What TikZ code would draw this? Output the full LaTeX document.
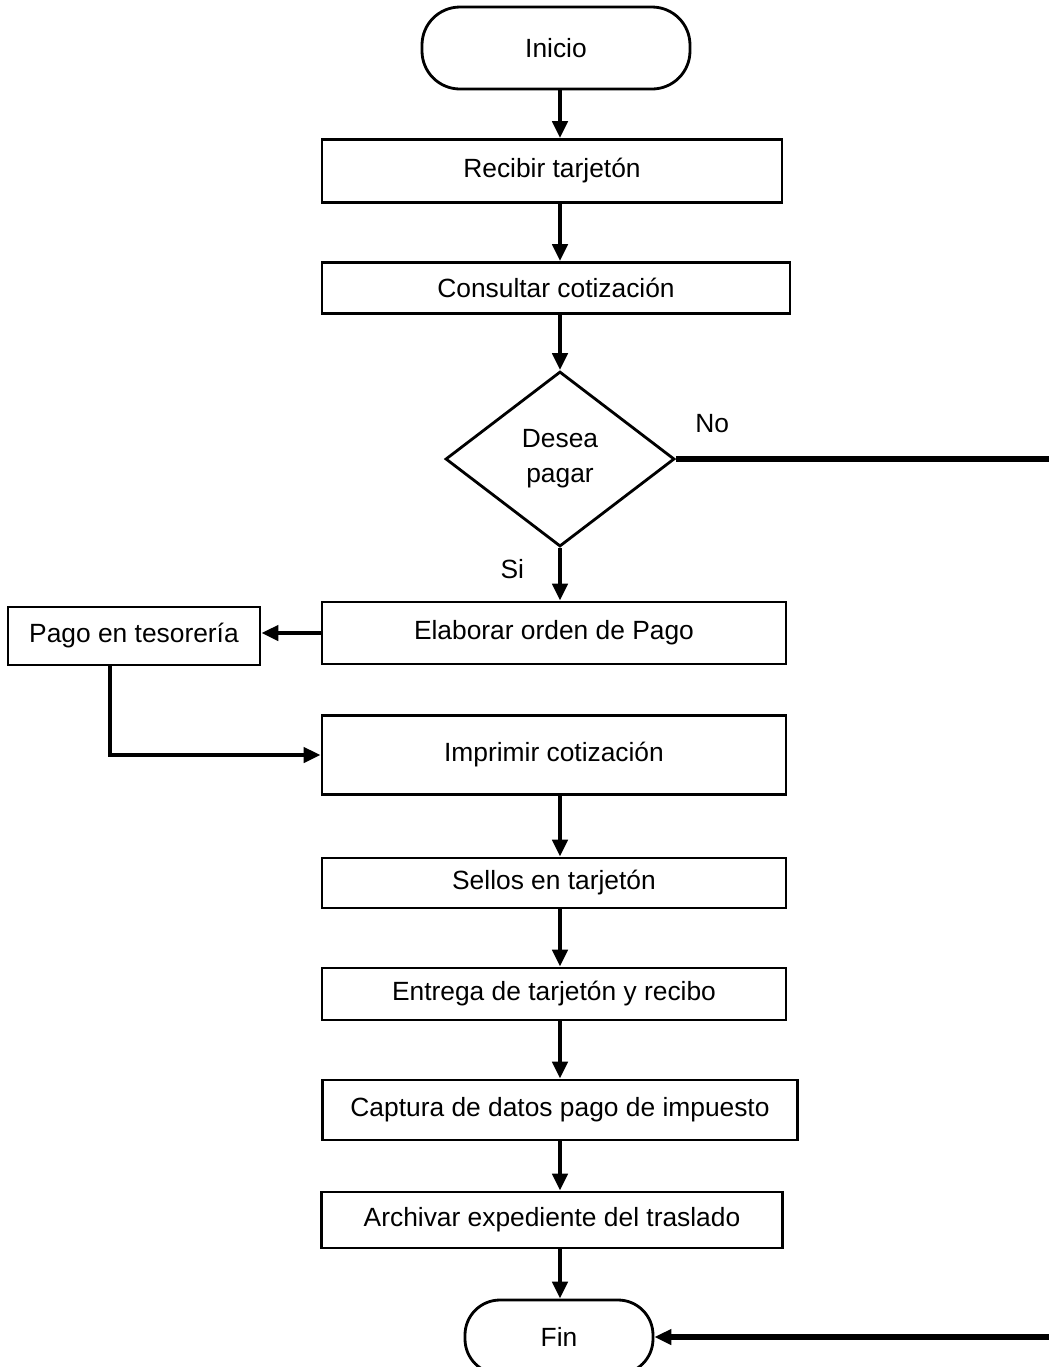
\documentclass[tikz,border=0pt]{standalone}
\usepackage{fontspec}
\setmainfont{Liberation Sans}
\usepackage{tikz}
\usetikzlibrary{arrows.meta, shapes.geometric, positioning, calc}

\begin{document}
\begin{tikzpicture}[
    font=\fontsize{7.5}{9.4}\selectfont,
    proc/.style={draw, rectangle, line width=0.8pt, inner sep=0pt, align=center},
    term/.style={draw, rectangle, rounded corners=0.38cm, line width=0.8pt, inner sep=0pt},
    dec/.style={draw, diamond, aspect=1.3, line width=0.8pt, inner sep=0pt, align=center},
    arr/.style={line width=1.3pt, -{Triangle[length=0.17cm, width=0.15cm]}},
    back/.style={line width=1.5pt, -{Triangle[length=0.17cm, width=0.15cm]}}
  ]
        % page frame
        \useasboundingbox (0,0) rectangle (10.49,-13.67);

        % Terminators
        \node[term, minimum width=2.68cm, minimum height=0.82cm] (ini) at (5.56,-0.48) {Inicio};
        \node[term, minimum width=1.88cm, minimum height=0.74cm, rounded corners=0.35cm] (fin) at (5.59,-13.37) {Fin};

        % Main column
        \node[proc, minimum width=4.60cm, minimum height=0.63cm] (recibir)   at (5.52,-1.71)  {Recibir tarjetón};
        \node[proc, minimum width=4.68cm, minimum height=0.51cm] (consultar) at (5.56,-2.88)  {Consultar cotización};
        \node[dec,  minimum width=2.29cm, minimum height=1.75cm] (desea)     at (5.60,-4.59)  {Desea\\[0.5pt]pagar};
        \node[proc, minimum width=4.64cm, minimum height=0.62cm] (elaborar)  at (5.54,-6.33)  {Elaborar orden de Pago};
        \node[proc, minimum width=4.64cm, minimum height=0.79cm] (imprimir)  at (5.54,-7.55)  {Imprimir cotización};
        \node[proc, minimum width=4.64cm, minimum height=0.50cm] (sellos)    at (5.54,-8.83)  {Sellos en tarjetón};
        \node[proc, minimum width=4.64cm, minimum height=0.52cm] (entrega)   at (5.54,-9.94)  {Entrega de tarjetón y recibo};
        \node[proc, minimum width=4.75cm, minimum height=0.60cm] (captura)   at (5.60,-11.10) {Captura de datos pago de impuesto};
        \node[proc, minimum width=4.61cm, minimum height=0.56cm] (archivar)  at (5.52,-12.20) {Archivar expediente del traslado};

        % Side box
        \node[proc, minimum width=2.52cm, minimum height=0.58cm] (pago) at (1.34,-6.36) {Pago en tesorería};

        % helper columns
        \coordinate (col) at (5.60,0);
        \coordinate (turn) at (10.80,0);
        \coordinate (drop) at (1.10,0);

        % Vertical flow
        \draw[arr] (ini.south -| col)       -- (recibir.north -| col);
        \draw[arr] (recibir.south -| col)   -- (consultar.north -| col);
        \draw[arr] (consultar.south -| col) -- (desea.north);
        \draw[arr] (desea.south) -- node[pos=0.4, left=0.22cm] {Si} (elaborar.north -| desea.south);
        \draw[arr] (imprimir.south -| col)  -- (sellos.north -| col);
        \draw[arr] (sellos.south -| col)    -- (entrega.north -| col);
        \draw[arr] (entrega.south -| col)   -- (captura.north -| col);
        \draw[arr] (captura.south -| col)   -- (archivar.north -| col);
        \draw[arr] (archivar.south -| col)  -- (fin.north -| col);

        % Payment branch
        \draw[arr] (elaborar.west) -- (pago.east |- elaborar.west);
        \draw[arr] (pago.south -| drop) |- (imprimir.west);

        % No branch (runs off the page)
        \draw[back] (desea.east) -- node[pos=0.09, above=0.12cm] {No} (desea.east -| turn) |- (fin.east);
\end{tikzpicture}
\end{document}
